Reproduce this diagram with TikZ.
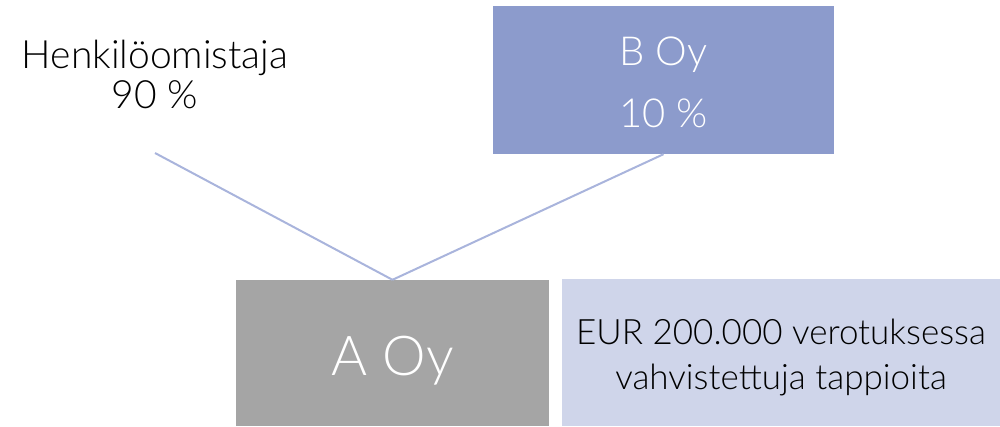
\documentclass[tikz,border=0pt]{standalone}
\usepackage{fontspec}
\setmainfont{Lato}[UprightFont=* Light]
\definecolor{bbox}{HTML}{8C9BCC}
\definecolor{abox}{HTML}{A5A5A5}
\definecolor{rbox}{HTML}{CFD5EA}
\definecolor{conn}{HTML}{A9B4DC}
\begin{document}
\begin{tikzpicture}[x=1pt,y=-1pt,
  box/.style={rectangle, inner sep=0pt},
  txt/.style={inner sep=0pt, align=center},
  link/.style={draw=conn, line width=2pt}]
\useasboundingbox (0,0) rectangle (1000,426);
\node[txt, font=\fontsize{39}{40}\selectfont] (hen) at (155,74) {Henkilöomistaja\\90 \%};
\coordinate (henb) at (155,153);
\node[box, fill=bbox, minimum width=341pt, minimum height=148pt] (b) at (663.5,80) {};
\node[txt, text=white, font=\fontsize{40}{62}\selectfont] (bt) at ([yshift=-2.5pt]b.center) {B Oy\\10 \%};
\node[box, fill=abox, minimum width=313pt, minimum height=146pt] (a) at (392.5,353) {};
\node[txt, text=white, font=\fontsize{55}{66}\selectfont] (at) at ([yshift=-8pt]a.center) {A Oy};
\node[box, fill=rbox, minimum width=438pt, minimum height=147pt] (r) at (781,352.5) {};
\node[txt, text=black, font=\fontsize{35}{45}\selectfont] (rt) at ([yshift=-5pt]r.center) {EUR 200.000 verotuksessa\\vahvistettuja tappioita};
\draw[link] (henb) -- (a.north);
\draw[link] (b.south) -- (a.north);
\end{tikzpicture}
\end{document}
